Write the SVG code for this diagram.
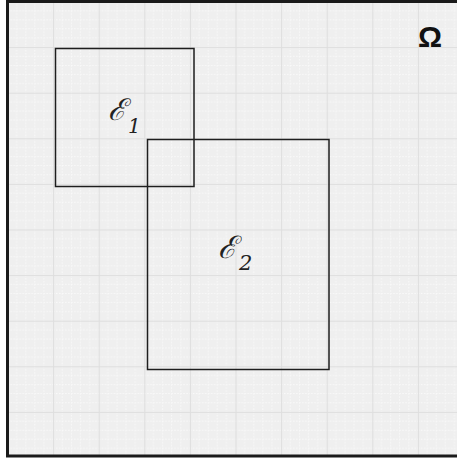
<svg xmlns="http://www.w3.org/2000/svg" width="457" height="460" viewBox="0 0 457 460">
<style>
.set{fill:none;stroke:#1e1e1e;stroke-width:1.5}
.lbl{font-family:"DejaVu Serif",serif;font-style:italic;fill:#222}
.major{stroke:#dedede;stroke-width:2}
.minor{stroke:#fafafa;stroke-width:1;stroke-dasharray:1.5,1.5}
</style>
<defs>
<pattern id="grid" patternUnits="userSpaceOnUse" x="7.5" y="1.5" width="45.6" height="45.6">
<rect width="45.6" height="45.6" fill="#efefef"/>
<path class="minor" d="M9.12 0V45.6M18.24 0V45.6M27.36 0V45.6M36.48 0V45.6M0 9.12H45.6M0 18.24H45.6M0 27.36H45.6M0 36.48H45.6"/>
<path class="major" d="M0 0V45.6M0 0H45.6"/>
</pattern>
</defs>
<rect width="457" height="460" fill="#ffffff"/>
<g id="omega-domain">
<rect x="7.5" y="1.5" width="449.5" height="454.5" fill="url(#grid)"/>
<path d="M7.5 0V457M6 1.5H457M6 456H457" fill="none" stroke="#1a1a1a" stroke-width="3"/>
<text x="418" y="47" font-family="'Liberation Sans',sans-serif" font-weight="bold" style="font-size:30px" fill="#111">Ω</text>
</g>
<g id="connectors"></g>
<g id="E1">
<rect class="set" x="55.5" y="48.5" width="138.5" height="138"/>
<text class="lbl" x="108" y="120" style="font-size:30px">ℰ<tspan style="font-size:20px" dx="2" dy="13">1</tspan></text>
</g>
<g id="E2">
<rect class="set" x="147.5" y="139.5" width="181.5" height="230"/>
<text class="lbl" x="218" y="258" style="font-size:31px">ℰ<tspan style="font-size:21px" dx="2" dy="12">2</tspan></text>
</g>
</svg>
